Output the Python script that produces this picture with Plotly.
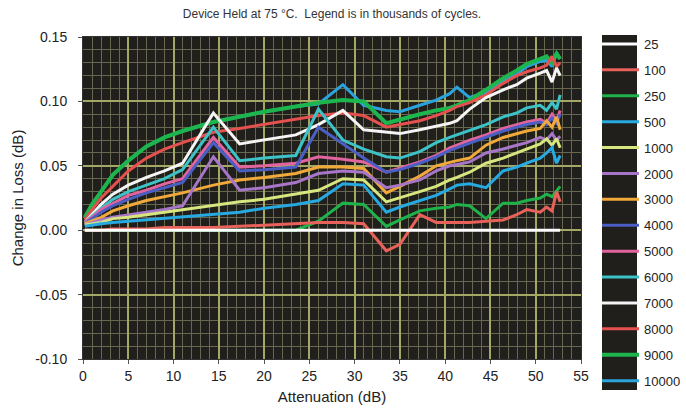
import plotly.graph_objects as go

# Shared attenuation sample points (dB)
X = [0.2, 1, 2, 3.3, 5, 7, 9, 11, 14.4, 17.3, 20, 23.5, 26, 28.7, 31, 33.5, 35,
     37.2, 39, 40.5, 41.3, 42.7, 44.5, 46.4, 47.9, 49, 50.5, 51.2, 51.8, 52.3, 52.7]

NAMES = ["25", "100", "250", "500", "1000", "2000", "3000", "4000", "5000",
         "6000", "7000", "8000", "9000", "10000"]

Y_25 = [0.0] * 31
Y_100 = [0.0, 0.0, 0.0, 0.001, 0.001, 0.001, 0.002, 0.002, 0.002, 0.003, 0.004, 0.005, 0.006,
         0.006, 0.005, -0.016, -0.011, 0.012, 0.006, 0.006, 0.006, 0.006, 0.007, 0.008, 0.012,
         0.016, 0.014, 0.018, 0.015, 0.030, 0.022]
Y_250 = [0.0, 0.0, 0.0, 0.0, 0.0, 0.0, 0.0, 0.0, 0.0, 0.0, 0.0, 0.0, 0.007,
         0.021, 0.020, 0.003, 0.008, 0.015, 0.017, 0.018, 0.020, 0.019, 0.009, 0.021, 0.021,
         0.023, 0.025, 0.028, 0.026, 0.031, 0.034]
Y_500 = [0.003, 0.004, 0.005, 0.006, 0.007, 0.008, 0.009, 0.010, 0.012, 0.014, 0.017, 0.020,
         0.023, 0.036, 0.035, 0.014, 0.018, 0.023, 0.027, 0.032, 0.035, 0.036, 0.033, 0.046,
         0.049, 0.052, 0.056, 0.060, 0.064, 0.052, 0.058]
Y_1000 = [0.004, 0.005, 0.006, 0.009, 0.010, 0.012, 0.014, 0.016, 0.019, 0.022, 0.024, 0.028,
          0.031, 0.040, 0.039, 0.022, 0.025, 0.030, 0.034, 0.039, 0.041, 0.045, 0.052, 0.056,
          0.060, 0.063, 0.067, 0.071, 0.066, 0.071, 0.064]
Y_2000 = [0.004, 0.006, 0.008, 0.010, 0.012, 0.014, 0.016, 0.019, 0.057, 0.031, 0.033, 0.037,
          0.044, 0.046, 0.045, 0.033, 0.035, 0.039, 0.046, 0.050, 0.051, 0.053, 0.060, 0.063,
          0.066, 0.068, 0.072, 0.070, 0.075, 0.070, 0.073]
Y_3000 = [0.005, 0.007, 0.010, 0.015, 0.019, 0.023, 0.026, 0.029, 0.035, 0.039, 0.041, 0.044,
          0.049, 0.049, 0.048, 0.029, 0.034, 0.042, 0.050, 0.053, 0.054, 0.056, 0.066, 0.072,
          0.075, 0.077, 0.079, 0.085, 0.080, 0.088, 0.078]
Y_4000 = [0.005, 0.009, 0.014, 0.019, 0.024, 0.029, 0.033, 0.037, 0.068, 0.046, 0.047, 0.049,
          0.080, 0.067, 0.056, 0.045, 0.047, 0.052, 0.057, 0.062, 0.064, 0.068, 0.072, 0.077,
          0.080, 0.082, 0.084, 0.082, 0.087, 0.083, 0.090]
Y_5000 = [0.006, 0.010, 0.016, 0.021, 0.027, 0.031, 0.036, 0.040, 0.072, 0.049, 0.050, 0.052,
          0.057, 0.055, 0.053, 0.045, 0.048, 0.053, 0.058, 0.064, 0.066, 0.070, 0.074, 0.079,
          0.082, 0.084, 0.086, 0.083, 0.090, 0.085, 0.093]
Y_6000 = [0.006, 0.011, 0.017, 0.024, 0.030, 0.035, 0.040, 0.047, 0.080, 0.054, 0.056, 0.058,
          0.094, 0.070, 0.063, 0.057, 0.056, 0.061, 0.068, 0.072, 0.074, 0.078, 0.082, 0.088,
          0.091, 0.095, 0.097, 0.093, 0.099, 0.094, 0.105]
Y_7000 = [0.006, 0.012, 0.020, 0.028, 0.035, 0.041, 0.046, 0.052, 0.091, 0.067, 0.070, 0.074,
          0.082, 0.093, 0.078, 0.076, 0.075, 0.078, 0.081, 0.083, 0.085, 0.094, 0.103, 0.109,
          0.113, 0.118, 0.122, 0.124, 0.115, 0.126, 0.120]
Y_8000 = [0.008, 0.016, 0.025, 0.034, 0.046, 0.056, 0.063, 0.068, 0.076, 0.079, 0.082, 0.086,
          0.089, 0.091, 0.089, 0.080, 0.082, 0.085, 0.089, 0.093, 0.096, 0.099, 0.105, 0.114,
          0.120, 0.123, 0.126, 0.128, 0.135, 0.127, 0.130]
Y_9000 = [0.010, 0.020, 0.030, 0.043, 0.054, 0.065, 0.072, 0.077, 0.084, 0.088, 0.092, 0.096,
          0.099, 0.101, 0.100, 0.083, 0.086, 0.090, 0.093, 0.095, 0.097, 0.101, 0.109, 0.118,
          0.124, 0.129, 0.133, 0.135, 0.130, 0.137, 0.133]
Y_10000 = [0.010, 0.020, 0.030, 0.043, 0.054, 0.065, 0.072, 0.077, 0.084, 0.088, 0.092, 0.096,
           0.098, 0.113, 0.097, 0.093, 0.092, 0.097, 0.101, 0.106, 0.111, 0.103, 0.107, 0.116,
           0.121, 0.127, 0.131, 0.132, 0.127, 0.138, 0.133]

COLORS = ["#ffffff", "#e8615a", "#1fb24a", "#27a9e1", "#d7e67f", "#a776c9", "#f2a93b",
          "#4a5ec4", "#e2649f", "#3cc2c7", "#f5f5f5", "#e4514f", "#1db54e", "#2ba3dc"]

Y_TICKS = [-0.10, -0.05, 0.00, 0.05, 0.10, 0.15]
Y_TICK_TEXT = ["-0.10", "-0.05", "0.00", "0.05", "0.10", "0.15"]
X_TICKS = [0, 5, 10, 15, 20, 25, 30, 35, 40, 45, 50, 55]

ALL_Y = [Y_25, Y_100, Y_250, Y_500, Y_1000, Y_2000, Y_3000, Y_4000, Y_5000,
         Y_6000, Y_7000, Y_8000, Y_9000, Y_10000]

fig = go.Figure()
# draw last series first so the earlier ones sit on top; legend keeps 25 -> 10000
entries = list(enumerate(zip(NAMES, ALL_Y, COLORS)))
for rank, (name, ys, col) in reversed(entries):
    fig.add_trace(go.Scatter(
        x=X, y=ys, mode="lines", name=name, legendgroup=name, legendrank=rank + 1,
        line=dict(color=col, width=4 if name == "9000" else 3),
        hoverinfo="x+y+name",
    ))

font = "Liberation Sans, Arial, Helvetica, sans-serif"
MINOR = "#66674e"
MAJOR = "#a3a864"

# paper area (px): x 83..683, y 30..396 ; plot area x 83..581, y 37..359
PL, PR, PT, PB = 83, 683, 30, 396
PW, PH = PR - PL, PB - PT


def px_x(px):
    return (px - PL) / PW


def px_y(py):
    return (PB - py) / PH


fig.update_layout(
    width=686, height=411,
    margin=dict(l=PL, r=686 - PR, t=PT, b=411 - PB, autoexpand=False),
    paper_bgcolor="white",
    plot_bgcolor="#201f1b",
    font=dict(family=font, color="#222222", size=14),
    title=dict(text="Device Held at 75 °C.  Legend is in thousands of cycles.",
               x=332 / 686, xref="container", xanchor="center", y=1 - 14 / 411,
               yref="container", yanchor="middle",
               font=dict(size=12, color="#333333")),
    legend=dict(x=px_x(597), xanchor="left", y=px_y(29), yanchor="top",
                traceorder="grouped", tracegroupgap=6, maxheight=400,
                font=dict(size=13, color="#222222"), itemwidth=37,
                bgcolor="rgba(0,0,0,0)"),
    shapes=[dict(type="rect", xref="paper", yref="paper",
                 x0=px_x(602), x1=px_x(637), y0=px_y(390), y1=px_y(35),
                 fillcolor="#201f1b", line=dict(width=0), layer="below")],
)

fig.update_xaxes(
    domain=[0, px_x(581)],
    range=[0, 55], tickvals=X_TICKS, ticks="outside", ticklen=4, tickcolor="#555555",
    showline=True, linecolor="#333333", mirror=True, zeroline=False, automargin=False,
    showgrid=True, gridcolor=MAJOR, gridwidth=1.5,
    minor=dict(dtick=1, showgrid=True, gridcolor=MINOR, gridwidth=1),
    tickfont=dict(size=14), title=dict(text="Attenuation (dB)", font=dict(size=15), standoff=8),
)
fig.update_yaxes(
    domain=[px_y(359), px_y(37)],
    range=[-0.10, 0.15], tickvals=Y_TICKS, ticktext=Y_TICK_TEXT, ticks="outside", ticklen=4,
    tickcolor="#555555", ticklabelstandoff=8, automargin=False,
    showline=True, linecolor="#333333", mirror=True, zeroline=False,
    showgrid=True, gridcolor=MAJOR, gridwidth=1.5,
    minor=dict(dtick=0.01, tick0=0, showgrid=True, gridcolor=MINOR, gridwidth=1),
    tickfont=dict(size=14), title=dict(text="Change in Loss (dB)", font=dict(size=15), standoff=8),
)

fig.write_html("out.html", config={"displayModeBar": False},
               post_script="document.body.style.margin='0px';")
